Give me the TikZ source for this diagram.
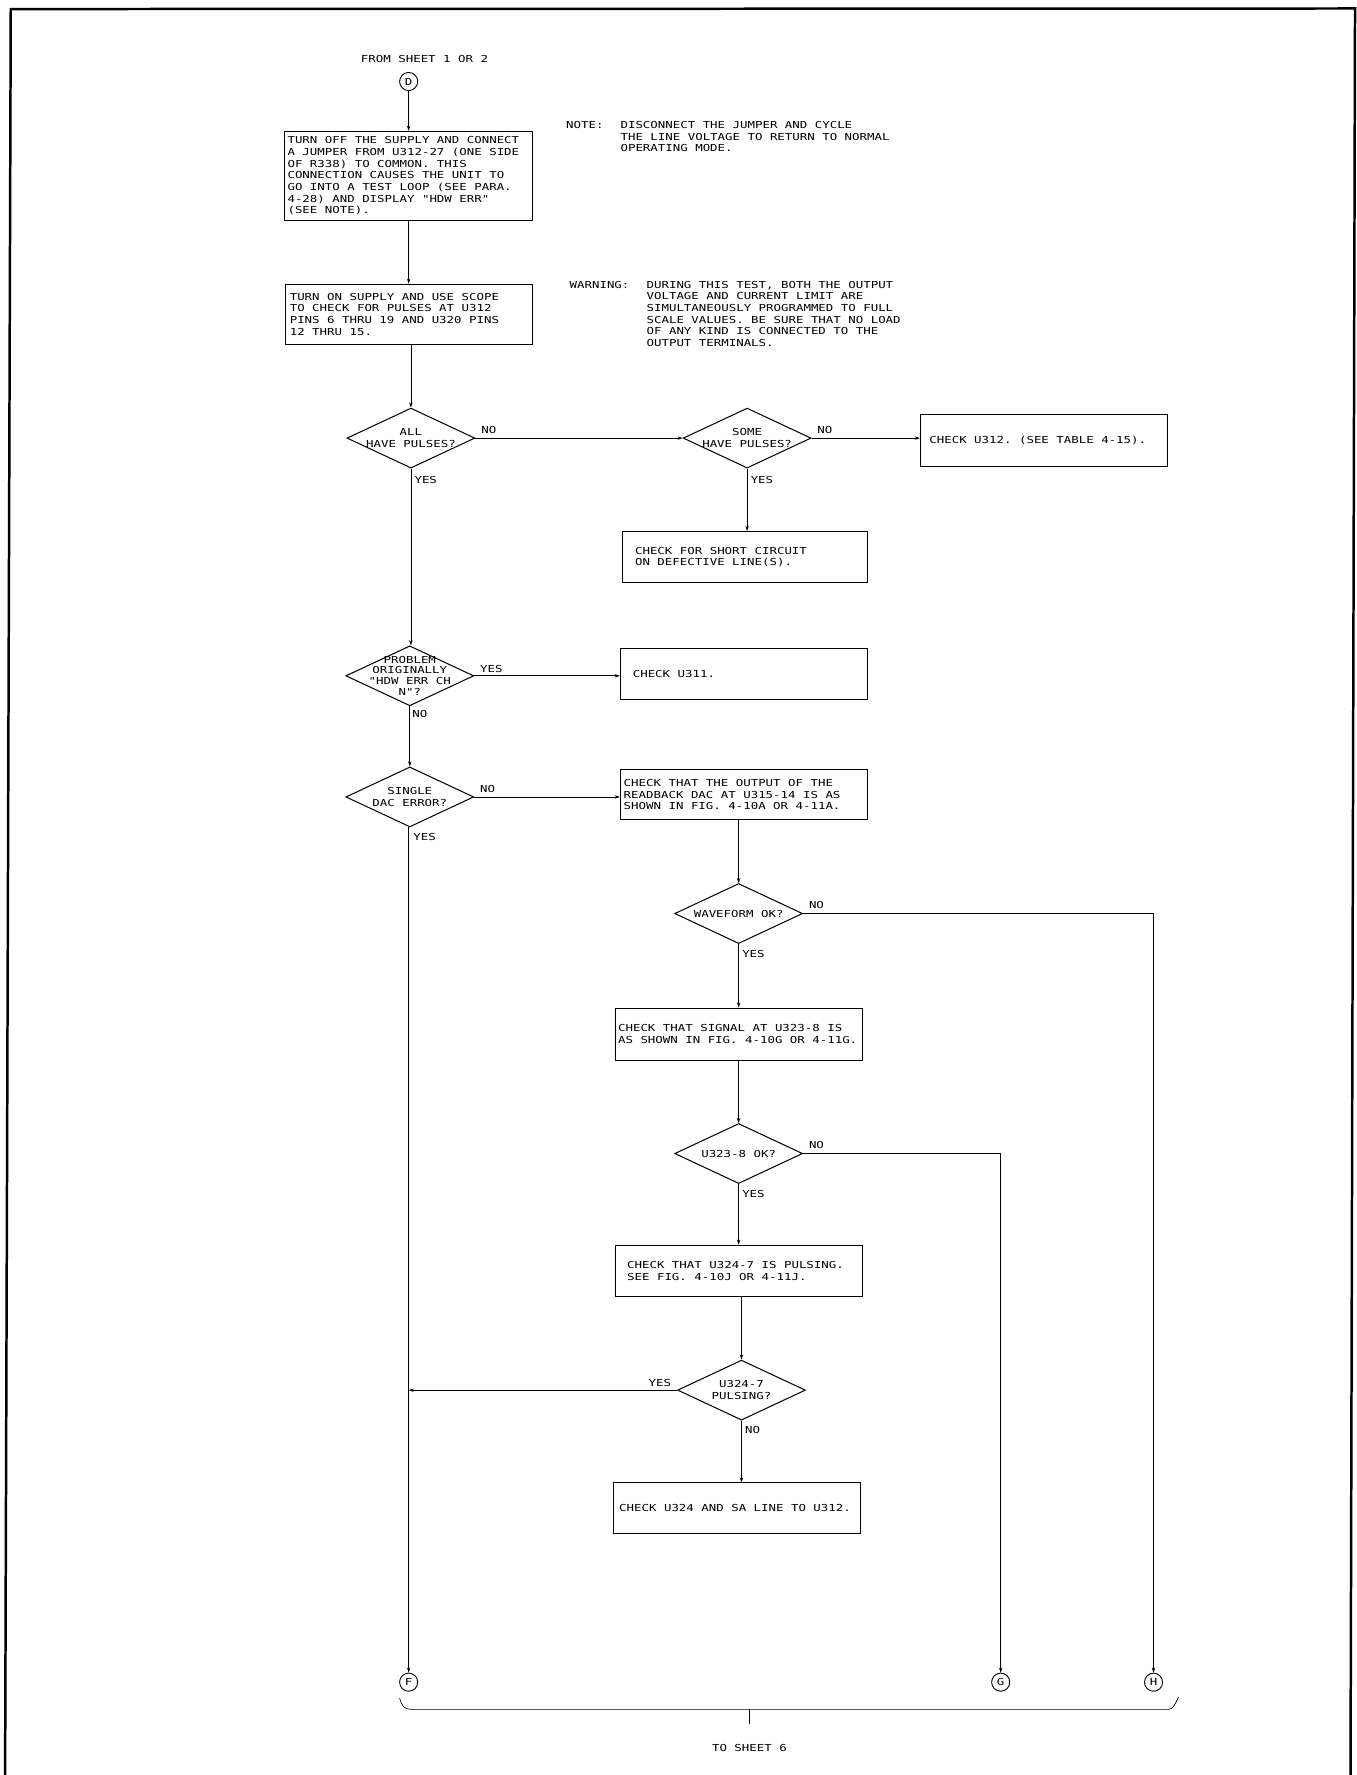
\documentclass[tikz,border=0pt]{standalone}
\usepackage{fontspec}
\setmainfont{DejaVu Sans Mono}[FakeStretch=1.29,Ligatures=TeXOff]
\usetikzlibrary{shapes.geometric,arrows.meta}
\newcommand\pfont{\fontsize{8.5}{10.3}\selectfont}
\newcommand\fixsp{\spaceskip=\fontdimen2\font\xspaceskip=\fontdimen2\font\relax}
\begin{document}
\begin{tikzpicture}[x=1pt,y=-1pt,
  every node/.style={font=\pfont},
  box/.style={draw,line width=0.9pt,rectangle,inner ysep=0pt,inner xsep=3pt,align=left},
  dia/.style={draw,line width=0.9pt,diamond,inner sep=0pt,minimum width=113pt,minimum height=53pt},
  dtext/.style={align=center,inner sep=0pt},
  conn/.style={circle,draw,line width=0.8pt,minimum size=16pt,inner sep=0pt},
  lab/.style={inner sep=0pt},
  ln/.style={line width=0.6pt},
  arr/.style={line width=0.6pt,-{Stealth[length=4.5pt,width=3pt]}},
]
\useasboundingbox (0,0) rectangle (1198,1568);
% sheet border
\draw[line width=2.2pt] (4.5,1572) -- (9.5,8) -- (1197,7.5) -- (1193,1572);

% header
\node[lab] (from) at (375,52) {FROM SHEET 1 OR 2};
\node[conn] (D) at (361,72) {D};

% boxes
\node[box,minimum width=219pt,minimum height=79pt,text width=213pt] (b1) at (360.5,155.5)
 {\fixsp TURN OFF THE SUPPLY AND CONNECT\\A JUMPER FROM U312-27 (ONE SIDE\\OF R338) TO COMMON. THIS\\CONNECTION CAUSES THE UNIT TO\\GO INTO A TEST LOOP (SEE PARA.\\4-28) AND DISPLAY "HDW ERR"\\(SEE NOTE).};
\node[box,minimum width=218pt,minimum height=53pt,text width=210pt,inner xsep=4pt] (b2) at (361,277.5)
 {\fixsp TURN ON SUPPLY AND USE SCOPE\\TO CHECK FOR PULSES AT U312\\PINS 6 THRU 19 AND U320 PINS\\12 THRU 15.};

% notes
\node[lab,anchor=north west] (notelab) at (500,107) {NOTE:};
\node[lab,anchor=north west,align=left] (note) at (548,107)
 {DISCONNECT THE JUMPER AND CYCLE\\THE LINE VOLTAGE TO RETURN TO NORMAL\\OPERATING MODE.};
\node[lab,anchor=north west] (warnlab) at (503,248) {WARNING:};
\node[lab,anchor=north west,align=left] (warn) at (571,248)
 {DURING THIS TEST, BOTH THE OUTPUT\\VOLTAGE AND CURRENT LIMIT ARE\\SIMULTANEOUSLY PROGRAMMED TO FULL\\SCALE VALUES. BE SURE THAT NO LOAD\\OF ANY KIND IS CONNECTED TO THE\\OUTPUT TERMINALS.};

% decisions and actions
\node[dia] (d1) at (363,387) {};
\node[dtext] at (d1) {ALL\\HAVE PULSES?};
\node[dia] (d2) at (660,387) {};
\node[dtext] at (d2) {SOME\\HAVE PULSES?};
\node[box,minimum width=218pt,minimum height=46pt,text width=202pt,inner xsep=8pt] (b3) at (922,389)
 {\fixsp CHECK U312. (SEE TABLE 4-15).};
\node[box,minimum width=216pt,minimum height=45pt,text width=194pt,inner xsep=11pt] (b4) at (658,492)
 {\fixsp CHECK FOR SHORT CIRCUIT\\ON DEFECTIVE LINE(S).};

\node[dia] (d3) at (362,597) {};
\node[dtext,font=\fontsize{8.5}{9.6}\selectfont] at (d3) {PROBLEM\\ORIGINALLY\\"HDW ERR CH\\N"?};
\node[box,minimum width=218pt,minimum height=45pt,text width=196pt,inner xsep=11pt] (b5) at (657,595.5)
 {\fixsp CHECK U311.};

\node[dia] (d4) at (362,704) {};
\node[dtext] at (d4) {SINGLE\\DAC ERROR?};
\node[box,minimum width=218pt,minimum height=44pt,text width=212pt] (b6) at (657,702)
 {\fixsp CHECK THAT THE OUTPUT OF THE\\READBACK DAC AT U315-14 IS AS\\SHOWN IN FIG. 4-10A OR 4-11A.};

\node[dia] (d5) at (652.5,807) {};
\node[dtext] at (d5) {WAVEFORM OK?};
\node[box,minimum width=218pt,minimum height=46pt,text width=214pt,inner xsep=2pt] (b7) at (653,913.5)
 {\fixsp CHECK THAT SIGNAL AT U323-8 IS\\AS SHOWN IN FIG. 4-10G OR 4-11G.};

\node[dia] (d6) at (652.5,1019) {};
\node[dtext] at (d6) {U323-8 OK?};
\node[box,minimum width=218pt,minimum height=45pt,text width=198pt,inner xsep=10pt] (b8) at (653,1122.5)
 {\fixsp CHECK THAT U324-7 IS PULSING.\\SEE FIG. 4-10J OR 4-11J.};

\node[dia] (d7) at (655,1228) {};
\node[dtext] at (d7) {U324-7\\PULSING?};
\node[box,minimum width=218pt,minimum height=45pt,text width=208pt,inner xsep=5pt] (b9) at (651,1332.5)
 {\fixsp CHECK U324 AND SA LINE TO U312.};

% off-page connectors
\node[conn] (F) at (361,1486) {F};
\node[conn] (G) at (884,1486) {G};
\node[conn] (H) at (1019,1486) {H};
\node[lab] (to) at (662,1544) {TO SHEET 6};

% connectors
\draw[arr] (D) -- (D |- b1.north);
\draw[arr] (b1.south -| b2.north) -- (b2.north);
\draw[arr] (b2.south -| d1.north) -- (d1.north);
\draw[arr] (d1.east) -- (d2.west);
\draw[arr] (d2.east) -- (d2.east -| b3.west);
\draw[arr] (d2.south) -- (d2.south |- b4.north);
\draw[arr] (d1.south) -- (d1.south |- d3.north);
\draw[arr] (d3.east) -- (d3.east -| b5.west);
\draw[arr] (d3.south) -- (d4.north);
\draw[arr] (d4.east) -- (d4.east -| b6.west);
\draw[arr] (d5.north |- b6.south) -- (d5.north);
\draw[arr] (d5.south) -- (d5.south |- b7.north);
\draw[arr] (d5.east) -- (H |- d5.east) -- (H.north);
\draw[arr] (d6.north |- b7.south) -- (d6.north);
\draw[arr] (d6.south) -- (d6.south |- b8.north);
\draw[arr] (d6.east) -- (G |- d6.east) -- (G.north);
\draw[arr] (d7.north |- b8.south) -- (d7.north);
\draw[arr] (d7.south) -- (d7.south |- b9.north);
\draw[arr] (d7.west) -- (F |- d7.west);
\draw[arr] (d4.south -| F.north) -- (F.north);

% branch labels
\node[lab,anchor=south west] at ([shift={(5,-4)}]d1.east) {NO};
\node[lab,anchor=north west] at ([shift={(3,7)}]d1.south) {YES};
\node[lab,anchor=south west] at ([shift={(5,-4)}]d2.east) {NO};
\node[lab,anchor=north west] at ([shift={(3,7)}]d2.south) {YES};
\node[lab,anchor=south west] at ([shift={(5,-3)}]d3.east) {YES};
\node[lab,anchor=north west] at ([shift={(2,3)}]d3.south) {NO};
\node[lab,anchor=south west] at ([shift={(5,-4)}]d4.east) {NO};
\node[lab,anchor=north west] at ([shift={(3,5)}]d4.south) {YES};
\node[lab,anchor=south west] at ([shift={(5,-4)}]d5.east) {NO};
\node[lab,anchor=north west] at ([shift={(3,5)}]d5.south) {YES};
\node[lab,anchor=south west] at ([shift={(5,-4)}]d6.east) {NO};
\node[lab,anchor=north west] at ([shift={(3,5)}]d6.south) {YES};
\node[lab,anchor=south east] at ([shift={(-5,-3)}]d7.west) {YES};
\node[lab,anchor=north west] at ([shift={(3,5)}]d7.south) {NO};

% bracket to sheet 6
\draw[ln] (353,1500) .. controls (355,1507) and (357,1510) .. (363,1510) -- (1032,1510) .. controls (1036,1510) and (1038,1506) .. (1041,1499);
\draw[ln] (662,1510) -- (to.north |- 662,1523);
\end{tikzpicture}
\end{document}
